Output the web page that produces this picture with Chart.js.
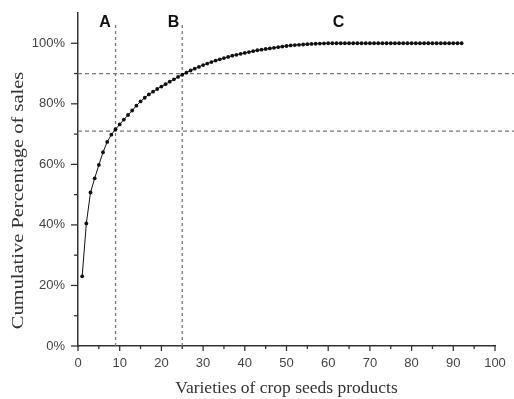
<!DOCTYPE html>
<html><head><meta charset="utf-8">
<script src="https://cdn.jsdelivr.net/npm/chart.js@4.4.1/dist/chart.umd.min.js"></script>
<style>html,body{margin:0;padding:0;background:#fff;}canvas{display:block}</style>
</head><body>
<canvas id="c" width="514" height="399"></canvas>
<script>
// Cumulative percentage of sales for each variety (1..92)
const cumulativePct = [
  23.0, 40.5, 50.7, 55.4, 59.8, 64.0, 67.4, 69.8, 71.6, 73.2,
  74.8, 76.3, 77.8, 79.4, 80.8, 82.0, 83.1, 84.0, 84.9, 85.7,
  86.5, 87.3, 88.1, 88.9, 89.6, 90.3, 91.0, 91.6, 92.2, 92.8,
  93.3, 93.8, 94.3, 94.7, 95.1, 95.5, 95.9, 96.2, 96.5, 96.8,
  97.1, 97.4, 97.7, 97.9, 98.1, 98.3, 98.5, 98.7, 98.9, 99.1,
  99.3, 99.4, 99.5, 99.6, 99.7, 99.8, 99.85, 99.9, 99.95, 100,
  100, 100, 100, 100, 100, 100, 100, 100, 100, 100,
  100, 100, 100, 100, 100, 100, 100, 100, 100, 100,
  100, 100, 100, 100, 100, 100, 100, 100, 100, 100,
  100, 100
];
const varieties = cumulativePct.map((_, i) => i + 1);
const xTickLabels = ['0','10','20','30','40','50','60','70','80','90','100'];
const yTickLabels = ['0%','20%','40%','60%','80%','100%'];
const cutoffVarieties = [9, 25];
const cutoffPercents = [71, 90];
const zoneLabels = ['A', 'B', 'C'];

const AXIS_COLOR = '#333';
const TICK_COLOR = '#444';
const DASH_COLOR = '#777';

const datasets = [{
  data: varieties.map((v, i) => ({x: v, y: cumulativePct[i]})),
  showLine: true,
  borderColor: '#111',
  borderWidth: 1,
  pointRadius: 1.9,
  pointBackgroundColor: '#111',
  pointBorderWidth: 0,
  order: 0
}];
cutoffVarieties.forEach(v => datasets.push({
  data: [{x: v, y: 0}, {x: v, y: 107}],
  showLine: true, borderColor: DASH_COLOR, borderWidth: 1.3, borderDash: [3, 3],
  pointRadius: 0, order: 1
}));
cutoffPercents.forEach(p => datasets.push({
  data: [{x: 0, y: p}, {x: 106, y: p}],
  showLine: true, borderColor: DASH_COLOR, borderWidth: 1.3, borderDash: [4, 3],
  pointRadius: 0, order: 1, clip: false
}));

const decorPlugin = {
  id: 'decor',
  afterDraw(chart) {
    const {ctx, scales: {x, y}} = chart;
    ctx.save();
    ctx.strokeStyle = AXIS_COLOR;
    ctx.lineWidth = 1.3;
    x.ticks.forEach(t => {
      const px = x.getPixelForValue(t.value);
      const len = t.value % 10 === 0 ? 5 : 3;
      ctx.beginPath(); ctx.moveTo(px, x.top); ctx.lineTo(px, x.top + len); ctx.stroke();
    });
    y.ticks.forEach(t => {
      if (t.value > 100) return;
      const py = y.getPixelForValue(t.value);
      const len = t.value % 20 === 0 ? 7 : 4;
      ctx.beginPath(); ctx.moveTo(y.right, py); ctx.lineTo(y.right - len, py); ctx.stroke();
    });
    // zone labels
    const zonePos = [[6.5, 106.9], [22.9, 106.9], [62.5, 106.9]];
    ctx.fillStyle = '#111';
    ctx.font = 'bold 16px "Liberation Sans", Arial, sans-serif';
    ctx.textAlign = 'center';
    ctx.textBaseline = 'middle';
    zoneLabels.forEach((lab, i) => {
      ctx.fillText(lab, x.getPixelForValue(zonePos[i][0]), y.getPixelForValue(zonePos[i][1]));
    });
    // y axis title
    ctx.translate(18, 200.5);
    ctx.rotate(-Math.PI / 2);
    ctx.scale(1.17, 1);
    ctx.fillStyle = '#333';
    ctx.font = '17.5px "Liberation Serif", "Times New Roman", serif';
    ctx.fillText('Cumulative Percentage of sales', 0, 0);
    ctx.restore();
  }
};

new Chart(document.getElementById('c'), {
  type: 'scatter',
  data: {datasets},
  options: {
    responsive: false,
    animation: false,
    layout: {padding: {left: 0, top: 13, right: 19, bottom: 0}},
    plugins: {legend: {display: false}, tooltip: {enabled: false}},
    scales: {
      x: {
        type: 'linear', position: 'bottom', min: 0, max: 100,
        afterFit: s => { s.height = 53; },
        grid: {display: false},
        border: {display: true, color: AXIS_COLOR, width: 1.5},
        ticks: {
          stepSize: 5, autoSkip: false, maxRotation: 0, padding: 2,
          color: TICK_COLOR, font: {family: '"Liberation Sans", Arial, sans-serif', size: 13},
          callback: v => xTickLabels.includes(String(v)) ? String(v) : ''
        },
        title: {
          display: true, text: 'Varieties of crop seeds products', color: '#333',
          padding: {top: 0, bottom: 0},
          font: {family: '"Liberation Serif", "Times New Roman", serif', size: 17.5}
        }
      },
      y: {
        type: 'linear', min: 0, max: 110,
        afterFit: s => { s.width = 78; },
        grid: {display: false},
        border: {display: true, color: AXIS_COLOR, width: 1.5},
        ticks: {
          stepSize: 10, autoSkip: false, padding: 5,
          color: TICK_COLOR, font: {family: '"Liberation Sans", Arial, sans-serif', size: 13},
          callback: v => yTickLabels.includes(v + '%') ? v + '%' : ''
        }
      }
    }
  },
  plugins: [decorPlugin]
});
</script>
</body></html>
